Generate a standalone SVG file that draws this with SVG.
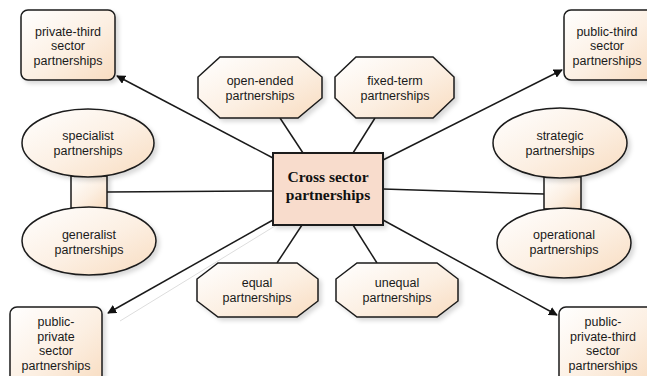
<svg xmlns="http://www.w3.org/2000/svg" width="647" height="376" viewBox="0 0 647 376">
<defs>
<linearGradient id="peach" x1="0" y1="0" x2="1" y2="1">
<stop offset="0" stop-color="#ffffff"/>
<stop offset="0.55" stop-color="#fcefe2"/>
<stop offset="1" stop-color="#f8dcc0"/>
</linearGradient>
<filter id="sh" x="-10%" y="-10%" width="130%" height="130%">
<feDropShadow dx="3" dy="3" stdDeviation="2" flood-color="#000" flood-opacity="0.15"/>
</filter>
<marker id="arr" viewBox="0 0 10 10" refX="9" refY="5" markerWidth="9" markerHeight="9" markerUnits="userSpaceOnUse" orient="auto">
<path d="M0,0 L10,5 L0,10 z" fill="#111"/>
</marker>
<style>
.n{fill:url(#peach);stroke:#1a1a1a;stroke-width:1.5;filter:url(#sh)}
.c{fill:#f8dccc;stroke:#1a1a1a;stroke-width:2;filter:url(#sh)}
.t{font-family:"Liberation Sans",Arial,sans-serif;font-size:12.5px;fill:#1a1a1a;text-anchor:middle}
.ct{font-family:"Liberation Serif","Times New Roman",serif;font-size:15.5px;font-weight:bold;fill:#111;text-anchor:middle}
.l{stroke:#1a1a1a;stroke-width:1.5;fill:none}
.a{stroke:#1a1a1a;stroke-width:1.5;fill:none;marker-end:url(#arr)}
.g{stroke:#ddd;stroke-width:1;fill:none}
</style>
</defs>
<rect width="647" height="376" fill="#fff"/>
<g id="connectors">
<line class="g" x1="275" y1="226" x2="120" y2="321"/>
<line class="a" x1="273" y1="158" x2="117" y2="76"/>
<line class="a" x1="383" y1="160" x2="562" y2="70"/>
<line class="a" x1="273" y1="220" x2="108" y2="313"/>
<line class="a" x1="383" y1="220" x2="557" y2="315"/>
<line class="l" x1="107" y1="192" x2="273" y2="191"/>
<line class="l" x1="383" y1="189" x2="544" y2="194"/>
<line class="l" x1="280" y1="118" x2="303" y2="153"/>
<line class="l" x1="375" y1="118" x2="353" y2="153"/>
<line class="l" x1="302" y1="225" x2="277" y2="263"/>
<line class="l" x1="353" y1="225" x2="377" y2="263"/>
</g>
<g id="private-third">
<rect class="n" x="21" y="10" width="94" height="70" rx="7"/>
<text class="t" x="68" y="35.5">private-third<tspan x="68" dy="14.5">sector</tspan><tspan x="68" dy="14.5">partnerships</tspan></text>
</g>
<g id="public-third">
<rect class="n" x="564" y="10" width="90" height="70" rx="7"/>
<text class="t" x="607" y="35.5">public-third<tspan x="607" dy="14.5">sector</tspan><tspan x="607" dy="14.5">partnerships</tspan></text>
</g>
<g id="specialist-generalist">
<rect class="n" x="71" y="176" width="36" height="32"/>
<ellipse class="n" cx="88" cy="143" rx="66" ry="34"/>
<text class="t" x="88" y="140">specialist<tspan x="88" dy="14.5">partnerships</tspan></text>
<ellipse class="n" cx="89" cy="241" rx="67" ry="34"/>
<text class="t" x="89" y="239">generalist<tspan x="89" dy="14.5">partnerships</tspan></text>
</g>
<g id="strategic-operational">
<rect class="n" x="544" y="177" width="37" height="32"/>
<ellipse class="n" cx="560" cy="143" rx="67" ry="35"/>
<text class="t" x="560" y="140">strategic<tspan x="560" dy="14.5">partnerships</tspan></text>
<ellipse class="n" cx="564" cy="243" rx="67" ry="35"/>
<text class="t" x="564" y="239">operational<tspan x="564" dy="14.5">partnerships</tspan></text>
</g>
<g id="open-ended">
<polygon class="n" points="220,57 298,57 322,77 322,98 298,118 220,118 198,98 198,77"/>
<text class="t" x="260" y="85">open-ended<tspan x="260" dy="14.5">partnerships</tspan></text>
</g>
<g id="fixed-term">
<polygon class="n" points="356,57 433,57 454,77 454,98 433,118 356,118 335,98 335,77"/>
<text class="t" x="395" y="85">fixed-term<tspan x="395" dy="14.5">partnerships</tspan></text>
</g>
<g id="equal">
<polygon class="n" points="218,263 297,263 318,279 318,301 297,317 218,317 197,301 197,279"/>
<text class="t" x="257" y="287">equal<tspan x="257" dy="14.5">partnerships</tspan></text>
</g>
<g id="unequal">
<polygon class="n" points="357,263 437,263 458,279 458,301 437,317 357,317 336,301 336,279"/>
<text class="t" x="397" y="287">unequal<tspan x="397" dy="14.5">partnerships</tspan></text>
</g>
<g id="public-private">
<rect class="n" x="10" y="307" width="92" height="80" rx="7"/>
<text class="t" x="56" y="326">public-<tspan x="56" dy="14.5">private</tspan><tspan x="56" dy="14.5">sector</tspan><tspan x="56" dy="14.5">partnerships</tspan></text>
</g>
<g id="public-private-third">
<rect class="n" x="559" y="307" width="95" height="80" rx="7"/>
<text class="t" x="603" y="326">public-<tspan x="603" dy="14.5">private-third</tspan><tspan x="603" dy="14.5">sector</tspan><tspan x="603" dy="14.5">partnerships</tspan></text>
</g>
<g id="center">
<rect class="c" x="273" y="153" width="110" height="72"/>
<text class="ct" x="328" y="182">Cross sector<tspan x="328" dy="18">partnerships</tspan></text>
</g>
</svg>
